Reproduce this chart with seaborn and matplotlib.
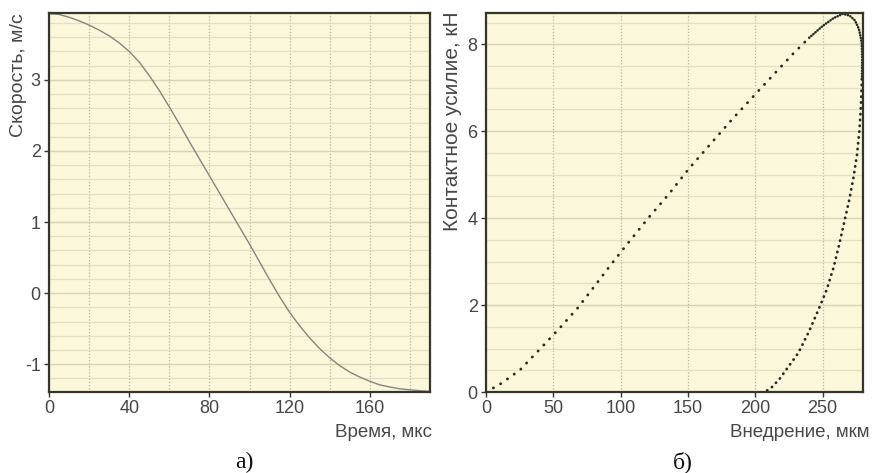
import numpy as np
import pandas as pd
import matplotlib
matplotlib.use("Agg")
import matplotlib.pyplot as plt
from matplotlib.ticker import MultipleLocator
import seaborn as sns

# --- panel a: velocity vs time ---
time_us = [0, 5, 10, 15, 20, 25, 30, 35, 40, 45, 50, 55, 60, 65, 70, 75, 80, 85, 90, 95,
           100, 105, 110, 115, 120, 125, 130, 135, 140, 145, 150, 155, 160, 165, 170, 175,
           180, 185, 190]
velocity = [3.93, 3.92, 3.88, 3.83, 3.77, 3.70, 3.62, 3.52, 3.40, 3.25, 3.06, 2.85, 2.62,
            2.38, 2.13, 1.89, 1.65, 1.41, 1.17, 0.93, 0.69, 0.44, 0.19, -0.05, -0.27, -0.46,
            -0.63, -0.78, -0.91, -1.02, -1.11, -1.18, -1.24, -1.29, -1.32, -1.345, -1.36,
            -1.372, -1.38]

# --- panel b: contact force vs penetration ---
load_x = [0, 10, 25, 42, 55, 68, 81, 92, 103, 121, 136, 151, 166, 183, 200, 215, 228, 240]
load_f = [0.0, 0.17, 0.50, 1.05, 1.48, 1.93, 2.45, 2.90, 3.33, 4.02, 4.56, 5.15, 5.68, 6.28,
          6.85, 7.35, 7.78, 8.15]
peak_x = [240, 250, 258, 265, 270, 274, 277, 279, 279.4, 279.2]
peak_f = [8.15, 8.42, 8.60, 8.70, 8.66, 8.55, 8.35, 8.05, 7.70, 7.20]
unload_x = [279.2, 278.5, 277.3, 275.5, 273, 270, 266, 262, 258, 253, 247, 240, 232, 225, 218, 212, 207]
unload_f = [7.20, 6.60, 6.00, 5.45, 4.95, 4.45, 3.90, 3.35, 2.85, 2.35, 1.90, 1.40, 0.90, 0.60,
            0.30, 0.10, 0.0]

bg = "#fbf7da"
frame = "#35352c"
txt = "#474747"

sns.set_style("white", {"axes.facecolor": bg})
plt.rcParams["font.family"] = ["Liberation Sans", "DejaVu Sans"]
plt.rcParams["axes.unicode_minus"] = False

fig = plt.figure(figsize=(8.75, 4.73), dpi=100)
ax1 = fig.add_axes([49 / 875, 81 / 473, 381 / 875, 379 / 473])
ax2 = fig.add_axes([486 / 875, 81 / 473, 377 / 875, 379 / 473])


def style_axes(ax):
    ax.set_facecolor(bg)
    for s in ax.spines.values():
        s.set_color(frame)
        s.set_linewidth(1.6)
        s.set_visible(True)
    ax.tick_params(which="major", direction="out", length=3.5, width=1, color=frame,
                   labelsize=13, labelcolor=txt, pad=2.5, bottom=True, left=True)
    ax.tick_params(which="minor", length=0)
    ax.grid(which="minor", axis="y", color="#e4dfc0", lw=0.9, ls="-")
    ax.grid(which="major", axis="y", color="#d8d3b3", lw=1.0, ls="-")
    ax.grid(which="both", axis="x", color="#b9b59c", lw=0.9, ls=(0, (1, 1.5)))
    ax.set_axisbelow(True)


# panel a
df_v = pd.DataFrame({"t": time_us, "v": velocity})
sns.lineplot(data=df_v, x="t", y="v", ax=ax1, color="#86867e", lw=1.0)
ax1.set_xlim(0, 190)
ax1.set_ylim(-1.39, 3.94)
ax1.xaxis.set_major_locator(MultipleLocator(40))
ax1.xaxis.set_minor_locator(MultipleLocator(20))
ax1.yaxis.set_major_locator(MultipleLocator(1))
ax1.yaxis.set_minor_locator(MultipleLocator(0.2))
style_axes(ax1)
ax1.set_xlabel("Время, мкс", fontsize=13.5, color=txt, ha="right", va="center")
ax1.set_ylabel("Скорость, м/с", fontsize=14, color=txt, ha="right", va="center")
ax1.xaxis.set_label_coords(1.005, -0.107)
ax1.yaxis.set_label_coords(-0.081, 1.0)

# panel b
dot = "#262a23"
df_l = pd.DataFrame({"x": load_x, "f": load_f})
df_p = pd.DataFrame({"x": peak_x, "f": peak_f})
df_u = pd.DataFrame({"x": unload_x, "f": unload_f})
sns.lineplot(data=df_l, x="x", y="f", ax=ax2, sort=False, estimator=None, color=dot,
             lw=2.0, linestyle=(0, (0.1, 2.9)), dash_capstyle="round")
sns.lineplot(data=df_p, x="x", y="f", ax=ax2, sort=False, estimator=None, color=dot,
             lw=1.8, linestyle=(0, (0.1, 1.0)), dash_capstyle="round")
sns.lineplot(data=df_u, x="x", y="f", ax=ax2, sort=False, estimator=None, color=dot,
             lw=2.0, linestyle=(0, (0.1, 2.0)), dash_capstyle="round")
ax2.set_xlim(0, 280)
ax2.set_ylim(0, 8.72)
ax2.xaxis.set_major_locator(MultipleLocator(50))
ax2.yaxis.set_major_locator(MultipleLocator(2))
ax2.yaxis.set_minor_locator(MultipleLocator(0.5))
style_axes(ax2)
ax2.set_xlabel("Внедрение, мкм", fontsize=13.5, color=txt, ha="right", va="center")
ax2.set_ylabel("Контактное усилие, кН", fontsize=15, color=txt, ha="right", va="center")
ax2.xaxis.set_label_coords(1.018, -0.107)
ax2.yaxis.set_label_coords(-0.088, 1.005)

cap_font = ["Liberation Serif", "DejaVu Serif"]
fig.text(244 / 875, 1 - 462 / 473, "а)", ha="center", va="center", fontsize=17,
         family=cap_font, color="#111111")
fig.text(683 / 875, 1 - 462 / 473, "б)", ha="center", va="center", fontsize=17,
         family=cap_font, color="#111111")

fig.savefig("out.png", dpi=100, facecolor="white")
